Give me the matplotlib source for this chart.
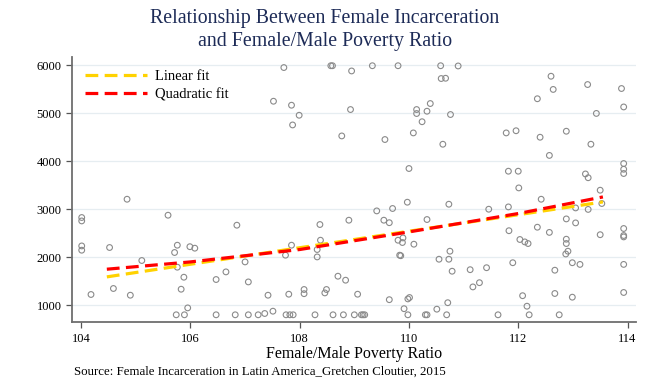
import matplotlib
matplotlib.use("Agg")
import matplotlib.pyplot as plt

# Female/Male poverty ratio (x) and female incarceration (y)
poverty_ratio = [
    104.01, 104.01, 104.01, 104.01, 104.18, 104.52, 104.59, 104.84, 104.90, 105.11,
    105.59, 105.76, 105.71, 105.76, 105.88, 105.83, 105.74, 105.89, 105.95, 105.99,
    106.08, 106.47, 106.65, 106.85, 107.00, 107.06, 106.47, 106.82, 107.06, 107.24,
    107.36, 107.51, 107.42, 107.80, 107.74, 107.85, 107.75, 107.82, 107.88, 107.71,
    107.52, 107.85, 107.99, 107.87, 108.08, 108.08, 108.28, 108.37, 108.38, 108.32,
    108.32, 108.46, 108.49, 108.70, 108.84, 108.90, 109.06, 108.61, 108.80, 109.00,
    109.13, 109.16, 109.19, 108.57, 108.60, 108.95, 109.33, 109.80, 108.93, 108.77,
    109.56, 109.41, 109.54, 109.64, 109.70, 109.97, 109.80, 109.88, 109.89, 109.83,
    109.85, 110.09, 109.64, 109.91, 110.01, 109.98, 109.98, 110.00, 110.08, 110.14,
    110.14, 110.33, 110.39, 110.24, 110.76, 110.62, 110.58, 110.90, 110.59, 110.67,
    110.33, 110.73, 110.30, 110.33, 110.69, 110.51, 110.71, 110.55, 110.73, 110.75,
    110.79, 111.12, 111.42, 111.17, 111.29, 111.63, 111.46, 111.82, 111.78, 111.96,
    111.82, 112.00, 112.01, 111.83, 111.90, 112.03, 112.12, 112.18, 112.08, 112.16,
    112.20, 112.42, 112.35, 112.57, 112.40, 112.57, 112.35, 112.60, 112.64, 112.88,
    112.67, 112.67, 112.75, 112.88, 112.88, 112.88, 112.91, 112.87, 112.99, 113.13,
    112.99, 113.05, 113.05, 113.28, 113.23, 113.28, 113.27, 113.33, 113.43, 113.50,
    113.53, 113.50, 113.89, 113.93, 113.93, 113.93, 113.93, 113.93, 113.93, 113.93,
    113.93, 113.93,
]
incarceration = [
    2827, 2756, 2235, 2146, 1223, 2202, 1348, 3208, 1208, 1931,
    2875, 2250, 2098, 1792, 1583, 1333, 800, 800, 944, 2219,
    2188, 1535, 1694, 2667, 1902, 1485, 800, 800, 800, 800,
    827, 875, 1208, 1229, 2042, 2250, 800, 800, 800, 5952,
    5250, 5167, 4958, 4756, 1327, 1240, 800, 2681, 2354, 2160,
    2006, 1256, 1327, 1604, 1521, 2771, 1229, 800, 800, 800,
    800, 800, 800, 5990, 5990, 5881, 5990, 5990, 5077, 4527,
    4452, 2965, 2771, 2719, 3015, 3146, 2354, 2306, 2402, 2042,
    2031, 2271, 1115, 927, 1160, 1131, 800, 3848, 4590, 5077,
    4994, 5042, 5202, 4823, 4973, 4354, 5990, 5985, 5723, 5729,
    2785, 3104, 800, 800, 800, 917, 1052, 1958, 1958, 2125,
    1708, 1740, 1781, 1381, 1469, 800, 3000, 3048, 4590, 4635,
    3792, 3792, 3444, 2552, 1885, 2369, 2319, 2285, 1198, 979,
    800, 3208, 2625, 2517, 4500, 4121, 5302, 5771, 5496, 4625,
    1729, 1244, 800, 2798, 2375, 2285, 2125, 2067, 1885, 1850,
    1167, 2715, 3027, 2996, 3735, 3656, 5598, 4354, 4996, 3396,
    3119, 2469, 5515, 5131, 3952, 3833, 3744, 2598, 2452, 2423,
    1850, 1265,
]

# fitted lines as drawn in the source chart
linear_x = [104.47, 113.55]
linear_y = [1590, 3152]
quad_x = [104.47, 106.0, 108.0, 110.0, 112.0, 113.55]
quad_y = [1750, 1902, 2160, 2527, 2910, 3256]

x_ticks = [104, 106, 108, 110, 112, 114]
y_ticks = [1000, 2000, 3000, 4000, 5000, 6000]

TITLE = "Relationship Between Female Incarceration\nand Female/Male Poverty Ratio"
SOURCE = "Source: Female Incarceration in Latin America_Gretchen Cloutier, 2015"

plt.rcParams["font.family"] = ["Liberation Serif", "DejaVu Serif"]

fig = plt.figure(figsize=(6.5, 3.91), dpi=100)
ax = fig.add_axes([0.111, 0.176, 0.867, 0.678])

ax.scatter(poverty_ratio, incarceration, s=17, facecolors="none",
           edgecolors="#8a8a8a", linewidths=0.8, zorder=2)

ax.plot(linear_x, linear_y, color="#ffd200", lw=2.3, dashes=(4, 2),
        label="Linear fit", zorder=3)
ax.plot(quad_x, quad_y, color="#ff0000", lw=2.3, dashes=(4, 2),
        label="Quadratic fit", zorder=4)

ax.set_xlim(103.835, 114.15)
ax.set_ylim(646, 6170)
ax.set_xticks(x_ticks)
ax.set_yticks(y_ticks)
ax.tick_params(axis="both", labelsize=9, length=4, width=0.9, color="#555555",
               direction="out")
ax.grid(axis="y", color="#e6edf1", lw=0.9)
ax.set_axisbelow(True)
for side in ("top", "right"):
    ax.spines[side].set_visible(False)
for side in ("left", "bottom"):
    ax.spines[side].set_color("#6e6e6e")
    ax.spines[side].set_linewidth(1.3)

ax.set_xlabel("Female/Male Poverty Ratio", fontsize=11.5, labelpad=1)
ax.legend(loc="upper left", frameon=False, fontsize=10.5, handlelength=4.3,
          handletextpad=0.55, borderaxespad=0.45, labelspacing=0.35,
          bbox_to_anchor=(0.0, 1.0))

fig.text(0.5, 0.978, TITLE, ha="center", va="top", fontsize=14.3, color="#1d2b57",
         linespacing=1.3)
fig.text(0.114, 0.035, SOURCE, ha="left", va="bottom", fontsize=9.3)

fig.savefig("out.png", dpi=100)
